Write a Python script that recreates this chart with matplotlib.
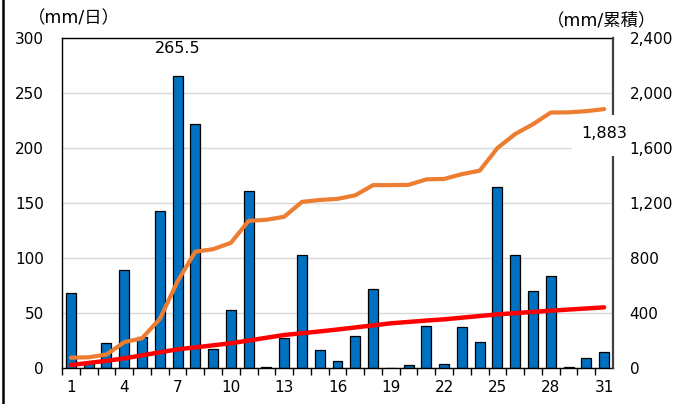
import matplotlib
matplotlib.use('Agg')
import matplotlib.pyplot as plt
from matplotlib.lines import Line2D
from matplotlib.patches import Rectangle
from matplotlib.ticker import FuncFormatter, MultipleLocator

plt.rcParams['font.family'] = ['DejaVu Sans', 'Noto Sans CJK JP']

# ── データ ──
days = list(range(1, 32))
daily = [68, 5, 23, 89, 28, 143, 265.5, 222, 17.5, 52.7, 161, 1, 27, 103, 16.4,
         6.7, 29.4, 72, 0, 2.7, 38, 4, 37.6, 24, 165, 103, 70, 83.6, 1, 9.4, 14.5]
cum_actual = [75, 78, 98, 188, 216, 356, 630, 846, 864, 910, 1070, 1078, 1100, 1208,
              1222, 1230, 1256, 1330, 1330, 1332, 1372, 1375, 1410, 1435, 1600, 1702,
              1773, 1858, 1859, 1868, 1883]
cum_normal = [22, 37, 52, 70, 92, 114, 136, 150, 165, 180, 200, 220, 240, 253, 266,
              280, 295, 310, 325, 335, 345, 354, 366, 378, 390, 399, 408, 417, 425,
              433, 441]
x_labels = [1, 4, 7, 10, 13, 16, 19, 22, 25, 28, 31]

C_BAR = '#0070C0'
C_ORANGE = '#ED7D31'
C_RED = '#FF0000'
C_GRID = '#D9D9D9'

fig = plt.figure(figsize=(6.77, 4.04), dpi=100)
ax = fig.add_axes([62/677, 36/404, 551/677, 330/404])
ax2 = ax.twinx()

# 棒グラフ（日降水量）
ax.bar(days, daily, width=0.56, color=C_BAR, edgecolor='black', linewidth=0.9, zorder=2)
ax.set_xlim(0.5, 31.5)
ax.set_ylim(0, 300)
ax.yaxis.set_major_locator(MultipleLocator(50))
ax.grid(axis='y', color=C_GRID, linewidth=1.0, zorder=0)
ax.set_axisbelow(True)

# 折れ線（累積）
ax2.plot(days, cum_normal, color=C_RED, linewidth=3.2, solid_capstyle='round', zorder=3)
ax2.plot(days, cum_actual, color=C_ORANGE, linewidth=3.0, solid_capstyle='round', zorder=4)
ax2.set_ylim(0, 2400)
ax2.yaxis.set_major_locator(MultipleLocator(400))
ax2.yaxis.set_major_formatter(FuncFormatter(lambda v, p: f'{int(v):,}'))

# 目盛り
ax.set_xticks(x_labels)
ax.set_xticks([d + 0.5 for d in range(0, 31)], minor=True)
ax.tick_params(axis='x', which='major', length=0, pad=9, labelsize=11)
ax.tick_params(axis='x', which='minor', length=5, width=1, color='black', direction='out')
ax.tick_params(axis='y', length=0, pad=13, labelsize=11)
ax2.tick_params(axis='y', length=0, pad=12, labelsize=11)

for s in ['left', 'bottom', 'top']:
    ax.spines[s].set_color('black')
    ax.spines[s].set_linewidth(1.0)
ax.spines['right'].set_visible(False)
for s in ['left', 'bottom', 'top']:
    ax2.spines[s].set_visible(False)
ax2.spines['right'].set_color('#404040')
ax2.spines['right'].set_linewidth(1.6)

# データラベル
imax = daily.index(max(daily))
ax.annotate(f'{daily[imax]}', xy=(days[imax], daily[imax]), xytext=(0, 20),
            textcoords='offset points', ha='center', va='center', fontsize=11.5)

ax2.add_patch(Rectangle((0.9256, 0.642), 0.102, 0.125, transform=ax2.transAxes,
                        facecolor='white', edgecolor='none', clip_on=False, zorder=5))
ax2.annotate(f'{cum_actual[-1]:,}', xy=(days[-1], cum_actual[-1]), xytext=(0, -17.5),
             textcoords='offset points', ha='center', va='center', fontsize=11.5, zorder=6)

# 単位
fig.text(28/677, 1 - 18/404, '（mm/日）', ha='left', va='center', fontsize=12.5)
fig.text(656/677, 1 - 20/404, '（mm/累積）', ha='right', va='center', fontsize=12.5)

# 左端の枠線
fig.add_artist(Line2D([2.5/677, 2.5/677], [0, 1], color='black', linewidth=1.8))

fig.savefig('out.png', dpi=100, facecolor='white')
